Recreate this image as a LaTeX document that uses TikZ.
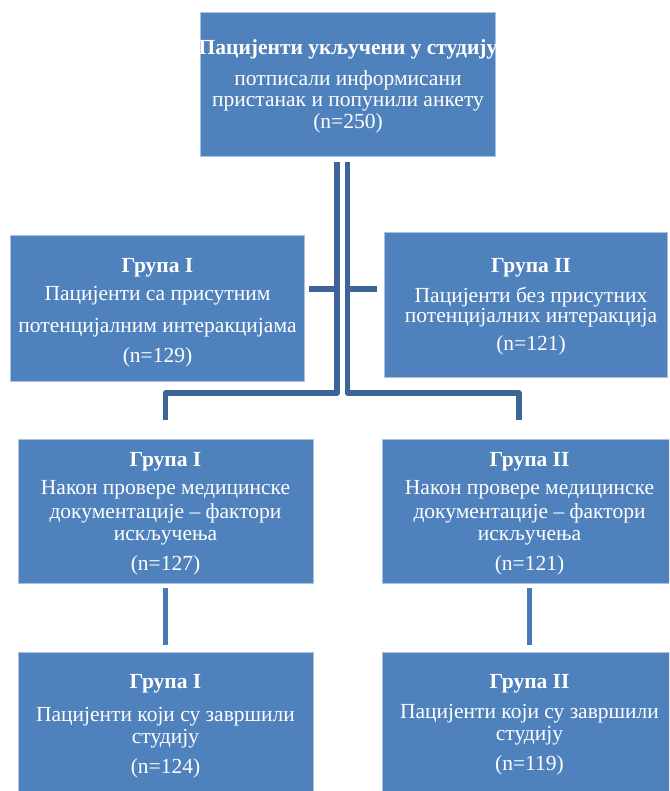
\documentclass[tikz,border=0pt]{standalone}
\usepackage{fontspec}
\setmainfont{Liberation Serif}
\definecolor{boxfill}{HTML}{4F81BD}
\definecolor{boxedge}{HTML}{A9C1DF}
\definecolor{conndark}{HTML}{3D6497}
\definecolor{connmid}{HTML}{4A78B5}
\tikzset{
  box/.style={rectangle, fill=boxfill, draw=boxedge, line width=0.7pt, inner sep=0pt},
  boxtext/.style={text=white, align=center, inner sep=0pt,
    font={\fontsize{21.5}{21.5}\selectfont\lineskiplimit=-50pt}},
  conn/.style={draw=conndark, line width=5.5pt, line join=round},
  conntwo/.style={draw=connmid, line width=5pt},
}
\begin{document}
\begin{tikzpicture}[x=1pt,y=-1pt]
\useasboundingbox (0,0) rectangle (669,791);
\fill[white] (0,0) rectangle (669,791);
\clip (0,0) rectangle (669,791);
% boxes
\node[box, minimum width=295pt, minimum height=144pt] (top) at (347.5,84) {};
\node[box, minimum width=294pt, minimum height=146pt] (g1a) at (157,308) {};
\node[box, minimum width=283pt, minimum height=145pt] (g2a) at (525.5,304.5) {};
\node[box, minimum width=295pt, minimum height=144pt] (g1b) at (165.5,511) {};
\node[box, minimum width=295pt, minimum height=144pt] (g2b) at (529.5,511) {};
\node[box, minimum width=295pt, minimum height=144pt] (g1c) at (165.5,724) {};
\node[box, minimum width=295pt, minimum height=144pt] (g2c) at (529.5,724) {};
% texts
\node[boxtext] (topt) at (348,86)
  {\textbf{Пацијенти укључени у студију}\\[9.5pt]потписали информисани\\пристанак и попунили анкету\\(n=250)};
\node[boxtext] (g1at) at (157.5,312.5)
  {\textbf{Група I}\\[6.5pt]Пацијенти са присутним\\[10.5pt]потенцијалним интеракцијама\\[8.5pt](n=129)};
\node[boxtext] (g2at) at (531,306.5)
  {\textbf{Група II}\\[8.5pt]Пацијенти без присутних\\[-1.5pt]потенцијалних интеракција\\[6.5pt](n=121)};
\node[boxtext] (g1bt) at (165.5,513.5)
  {\textbf{Група I}\\[6.5pt]Након провере медицинске\\[2.5pt]документације – фактори\\искључења\\[8.5pt](n=127)};
\node[boxtext] (g2bt) at (529.5,513.5)
  {\textbf{Група II}\\[6.5pt]Након провере медицинске\\[2.5pt]документације – фактори\\искључења\\[8.5pt](n=121)};
\node[boxtext] (g1ct) at (165.5,726)
  {\textbf{Група I}\\[11.5pt]Пацијенти који су завршили\\студију\\[8.5pt](n=124)};
\node[boxtext] (g2ct) at (529.5,724.5)
  {\textbf{Група II}\\[8.5pt]Пацијенти који су завршили\\студију\\[8.5pt](n=119)};
% connector points
\coordinate (la) at (337,162);
\coordinate (lb) at (337,393);
\coordinate (lc) at (165.5,393);
\coordinate (ld) at (165.5,420);
\coordinate (ra) at (347.5,162);
\coordinate (rb) at (347.5,393);
\coordinate (rc) at (519,393);
\coordinate (rd) at (519,420);
\coordinate (ls) at (309,289);
\coordinate (lj) at (337,289);
\coordinate (rj) at (347.5,289);
\coordinate (rs) at (377,289);
\coordinate (ma) at (165.5,588);
\coordinate (mb) at (165.5,645);
\coordinate (na) at (529.5,588);
\coordinate (nb) at (529.5,645);
% connectors
\draw[conn] (la) -- (lb) -- (lc) -- (ld);
\draw[conn] (ra) -- (rb) -- (rc) -- (rd);
\draw[conn] (ls) -- (lj);
\draw[conn] (rj) -- (rs);
\draw[conntwo] (ma) -- (mb);
\draw[conntwo] (na) -- (nb);
\end{tikzpicture}
\end{document}
